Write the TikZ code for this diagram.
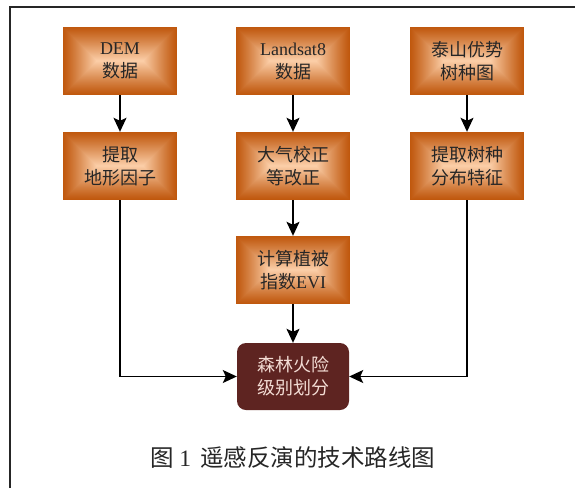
\documentclass[tikz,border=0pt]{standalone}
\usepackage{fontspec}
\setmainfont{Liberation Serif}
\newfontfamily\cjk{Noto Sans CJK SC}
\usetikzlibrary{arrows.meta,calc}
\definecolor{edgeor}{HTML}{C0580E}
\definecolor{midor}{HTML}{FBCDA6}
\definecolor{finalbg}{HTML}{5E2421}
\definecolor{finaltx}{HTML}{F3DCD4}
\tikzset{
  gradbox/.style={minimum width=114pt, minimum height=68pt, inner sep=0pt, align=center,
    font=\fontsize{18}{23}\selectfont, text=black!85,
    path picture={
      \foreach \i in {0,...,33}{
        \pgfmathsetmacro\p{100*(\i/33)^1.1}
        \fill[midor!\p!edgeor] ($(path picture bounding box.south west)+(\i pt,\i pt)$) rectangle ($(path picture bounding box.north east)-(\i pt,\i pt)$);
      }
    }},
  finalbox/.style={minimum width=112pt, minimum height=67pt, inner sep=0pt, align=center,
    rounded corners=9pt, fill=finalbg, text=finaltx, font=\fontsize{18}{23}\selectfont},
  arr/.style={line width=1.3pt, -{Stealth[width=13pt,length=14pt,inset=3pt]}},
  frameline/.style={line width=1.6pt, black!85}
}
\begin{document}
\begin{tikzpicture}[x=1pt,y=1pt]
\useasboundingbox (0,0) rectangle (575,-488);
\draw[frameline] (10,-488) -- (10,-7) -- (575,-7);
\node[gradbox] (dem) at (120,-61) {DEM\\{\cjk 数据}};
\node[gradbox] (land) at (293,-61) {Landsat8\\{\cjk 数据}};
\node[gradbox] (tai) at (467,-61) {{\cjk 泰山优势}\\{\cjk 树种图}};
\node[gradbox] (terr) at (120,-166) {{\cjk 提取}\\{\cjk 地形因子}};
\node[gradbox] (atm) at (293,-166) {{\cjk 大气校正}\\{\cjk 等改正}};
\node[gradbox] (dist) at (467,-166) {{\cjk 提取树种}\\{\cjk 分布特征}};
\node[gradbox] (evi) at (293,-270) {{\cjk 计算植被}\\{\cjk 指数}EVI};
\node[finalbox] (fin) at (293,-376.5) {{\cjk 森林火险}\\{\cjk 级别划分}};
\draw[arr] (dem) -- (terr);
\draw[arr] (land) -- (atm);
\draw[arr] (tai) -- (dist);
\draw[arr] (atm) -- (evi);
\draw[arr] (evi) -- (fin);
\draw[arr] (terr.south) |- (fin.west);
\draw[arr] (dist.south) |- (fin.east);
\node[text=black!85, font=\fontsize{23.5}{24}\selectfont] (cap) at (293,-458) {{\cjk 图}\hspace{5pt}1\hspace{9pt}{\cjk 遥感反演的技术路线图}};
\end{tikzpicture}
\end{document}
